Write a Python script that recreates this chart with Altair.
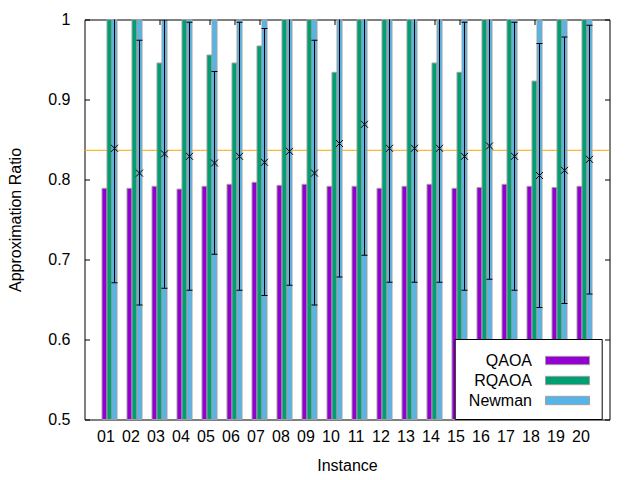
import json
import pandas as pd
import altair as alt

# ---------------- data ----------------
instances = ["01", "02", "03", "04", "05", "06", "07", "08", "09", "10",
             "11", "12", "13", "14", "15", "16", "17", "18", "19", "20"]
series = ["QAOA", "RQAOA", "Newman"]

qaoa = [0.789, 0.789, 0.7915, 0.788, 0.7915, 0.794, 0.7965, 0.7927, 0.794, 0.7915,
        0.7915, 0.789, 0.7915, 0.794, 0.789, 0.790, 0.794, 0.7915, 0.790, 0.7915]
rqaoa = [1.0, 1.0, 0.9456, 1.0, 0.9556, 0.9456, 0.9669, 1.0, 1.0, 0.934,
         1.0, 1.0, 1.0, 0.9456, 0.934, 1.0, 1.0, 0.923, 1.0, 1.0]
newman = [1.0, 1.0, 1.0, 1.0, 1.0, 1.0, 1.0, 1.0, 1.0, 1.0,
          1.0, 1.0, 1.0, 1.0, 1.0, 1.0, 1.0, 1.0, 1.0, 1.0]

sample_mean = [0.839, 0.808, 0.832, 0.829, 0.8206, 0.829, 0.8215, 0.8352, 0.808, 0.845,
               0.869, 0.839, 0.839, 0.839, 0.829, 0.8419, 0.829, 0.805, 0.8115, 0.8252]
sample_low = [0.671, 0.643, 0.664, 0.6615, 0.7065, 0.6615, 0.655, 0.6677, 0.643, 0.678,
              0.7053, 0.6715, 0.6715, 0.6715, 0.6615, 0.6752, 0.6615, 0.640, 0.645, 0.657]
sample_high = [1.007, 0.974, 0.9995, 0.9965, 0.935, 0.9965, 0.9886, 1.002, 0.974, 1.012,
               1.033, 1.0065, 1.0065, 1.0065, 0.9965, 1.0086, 0.9965, 0.970, 0.978, 0.9927]

reference_ratio = [0.8365]
y_ticks = [0.5, 0.6, 0.7, 0.8, 0.9, 1.0]

# ---------------- styles / layout ----------------
colors = ["#9400D3", "#009E73", "#56B4E9"]
border_gray = "#A0A0A0"
bar_start = {"QAOA": -0.3, "RQAOA": -0.1, "Newman": 0.1}
bar_width = 0.2
err_shift = 0.2
FONT = "Liberation Sans"
FS = 16

rows = []
for i, inst in enumerate(instances):
    for s, vals in zip(series, [qaoa, rqaoa, newman]):
        rows.append({"instance": inst, "series": s, "value": vals[i],
                     "x0": i + bar_start[s], "x1": i + bar_start[s] + bar_width})
bars_df = pd.DataFrame(rows)

err_df = pd.DataFrame({
    "instance": instances,
    "xpos": [i + err_shift for i in range(len(instances))],
    "mean": sample_mean,
    "low": sample_low,
    "high": sample_high,
})
ref_df = pd.DataFrame({"ratio": reference_ratio})

tick_idx = list(range(len(instances)))
x_scale = alt.Scale(domain=[-1, len(instances)], nice=False, zero=False)
y_scale = alt.Scale(domain=[0.5, 1.0], nice=False, zero=False)

label_expr = json.dumps(instances) + "[datum.value]"

x_bottom = alt.Axis(orient="bottom", values=tick_idx, labelExpr=label_expr,
                    tickSize=5, offset=-5, domain=False, grid=False,
                    labelPadding=8.5, labelOffset=-4, labelFlush=False, labelOverlap=False,
                    title="Instance", titlePadding=13)
x_top = alt.Axis(orient="top", values=tick_idx, labels=False, tickSize=5, offset=-5,
                 domain=False, grid=False, title=None)
y_left = alt.Axis(orient="left", values=y_ticks, format=".1~f", tickSize=5, offset=-5,
                  domain=False, grid=False, labelPadding=14.5, labelFlush=False,
                  labelOverlap=False, title="Approximation Ratio", titlePadding=24.5)
y_right = alt.Axis(orient="right", values=y_ticks, labels=False, tickSize=5, offset=-5,
                   domain=False, grid=False, title=None)

legend = alt.Legend(title=None, orient="none", legendX=370.2, legendY=319.5,
                    direction="vertical", labelAlign="right", labelOffset={"expr": "-47"},
                    symbolOffset=91.3, symbolType="M-2,-0.38H2V0.38H-2Z", symbolSize=484,
                    symbolStrokeColor=border_gray, symbolStrokeWidth=1,
                    labelFont=FONT, labelFontSize=FS, labelColor="black", labelLimit=300,
                    padding=10, rowPadding={"expr": "-0.5"}, strokeColor="black",
                    fillColor="white")

rule = alt.Chart(ref_df).mark_rule(color="#FFA500", strokeWidth=1).encode(
    y=alt.Y("ratio:Q", scale=y_scale, axis=None)
)

bars = alt.Chart(bars_df).mark_bar(stroke=border_gray, strokeWidth=1).encode(
    x=alt.X("x0:Q", scale=x_scale, axis=x_bottom),
    x2="x1:Q",
    y=alt.Y("value:Q", scale=y_scale, axis=y_left),
    y2=alt.datum(0.5),
    color=alt.Color("series:N", scale=alt.Scale(domain=series, range=colors), legend=legend),
)

err = alt.Chart(err_df).mark_rule(color="black", strokeWidth=1, clip=True).encode(
    x=alt.X("xpos:Q", scale=x_scale, axis=x_top),
    y=alt.Y("low:Q", scale=y_scale, axis=y_right),
    y2="high:Q",
)

cap_low = alt.Chart(err_df).mark_tick(color="black", thickness=1, size=6, orient="horizontal",
                                      clip=True, opacity=1).encode(
    x=alt.X("xpos:Q", scale=x_scale, axis=None),
    y=alt.Y("low:Q", scale=y_scale, axis=None),
)
cap_high = alt.Chart(err_df).mark_tick(color="black", thickness=1, size=6, orient="horizontal",
                                       clip=True, opacity=1).encode(
    x=alt.X("xpos:Q", scale=x_scale, axis=None),
    y=alt.Y("high:Q", scale=y_scale, axis=None),
)
means = alt.Chart(err_df).mark_point(shape="M-1,-1L1,1M-1,1L1,-1", size=49, filled=False,
                                     color="black", strokeWidth=1, opacity=1).encode(
    x=alt.X("xpos:Q", scale=x_scale, axis=None),
    y=alt.Y("mean:Q", scale=y_scale, axis=None),
)

chart = alt.layer(rule, bars, err, cap_low, cap_high, means).resolve_axis(
    x="independent", y="independent"
).properties(
    width=525, height=400,
    autosize=alt.AutoSizeParams(type="none"),
    padding={"left": 76.5, "top": 11.5, "right": 15, "bottom": 55},
).configure(font=FONT).configure_view(
    stroke="black", strokeWidth=1
).configure_axis(
    labelFont=FONT, labelFontSize=FS, titleFont=FONT, titleFontSize=FS,
    titleFontWeight="normal", labelColor="black", titleColor="black",
    tickColor="black", tickWidth=1,
)

chart.save("out.html", embed_options={"renderer": "svg", "actions": False})
